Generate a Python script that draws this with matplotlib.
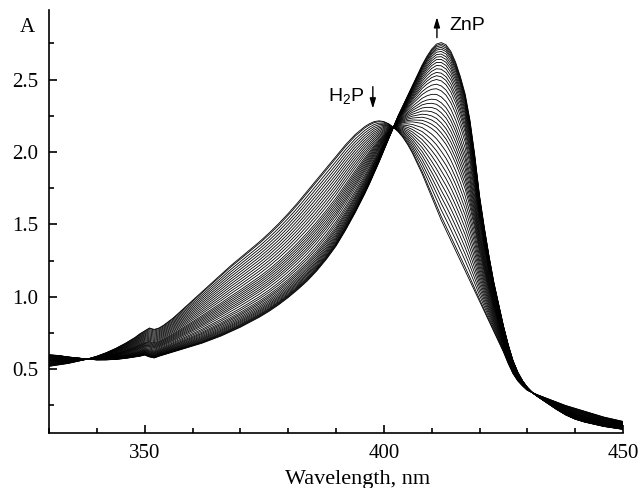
import numpy as np
import matplotlib
matplotlib.use('Agg')
import matplotlib.pyplot as plt
from matplotlib.ticker import MultipleLocator

# wavelength grid (nm)
wavelength = [330, 332, 334, 336, 338, 340, 342, 344, 346, 348, 349, 350, 351, 352, 353, 354,
              356, 358, 360, 362, 364, 366, 368, 370, 372, 374, 376, 378, 380, 382, 384, 386,
              388, 390, 392, 394, 396, 397, 398, 399, 400, 401, 402, 403, 404, 405, 406, 407,
              408, 409, 410, 411, 412, 413, 414, 415, 416, 417, 418, 419, 420, 421, 422, 423,
              424, 425, 426, 427, 428, 429, 430, 431, 432, 434, 436, 438, 440, 442, 444, 446,
              448, 450]

# free base porphyrin spectrum (start of titration)
abs_h2p = [0.52, 0.53, 0.54, 0.555, 0.57, 0.59, 0.615, 0.645, 0.68, 0.72, 0.745, 0.765, 0.785, 0.775, 0.785, 0.805,
           0.855, 0.915, 0.975, 1.035, 1.095, 1.155, 1.215, 1.27, 1.325, 1.38, 1.44, 1.505, 1.575, 1.65, 1.73, 1.81,
           1.89, 1.97, 2.05, 2.12, 2.175, 2.195, 2.21, 2.215, 2.21, 2.195, 2.17, 2.14, 2.10, 2.05, 1.99, 1.92,
           1.85, 1.77, 1.69, 1.61, 1.53, 1.46, 1.39, 1.32, 1.25, 1.18, 1.11, 1.04, 0.97, 0.90, 0.83, 0.76,
           0.69, 0.62, 0.54, 0.47, 0.42, 0.385, 0.355, 0.34, 0.325, 0.30, 0.275, 0.25, 0.23, 0.21, 0.19, 0.17,
           0.155, 0.14]

# zinc porphyrin spectrum (end of titration)
abs_znp = [0.60, 0.595, 0.585, 0.578, 0.57, 0.565, 0.565, 0.568, 0.575, 0.585, 0.59, 0.598, 0.585, 0.578, 0.59, 0.60,
           0.62, 0.64, 0.66, 0.68, 0.705, 0.73, 0.76, 0.79, 0.825, 0.86, 0.90, 0.945, 0.995, 1.05, 1.11, 1.18,
           1.26, 1.35, 1.46, 1.58, 1.71, 1.78, 1.855, 1.93, 2.01, 2.09, 2.17, 2.25, 2.32, 2.39, 2.46, 2.53,
           2.60, 2.66, 2.71, 2.745, 2.755, 2.74, 2.695, 2.62, 2.52, 2.40, 2.22, 1.98, 1.70, 1.48, 1.28, 1.10,
           0.95, 0.80, 0.67, 0.56, 0.48, 0.42, 0.375, 0.34, 0.315, 0.27, 0.225, 0.185, 0.155, 0.135, 0.12, 0.105,
           0.095, 0.085]

# absorbance at 412 nm of each recorded spectrum
levels_412 = [1.53, 1.555, 1.60, 1.645, 1.69, 1.735, 1.78, 1.825, 1.87, 1.915, 1.96, 2.005, 2.05,
              2.097, 2.132, 2.167, 2.201, 2.236, 2.271, 2.306, 2.34, 2.38, 2.422, 2.456, 2.491,
              2.519, 2.544, 2.571, 2.595, 2.618, 2.639, 2.658, 2.676, 2.694, 2.71, 2.722, 2.734,
              2.745, 2.755]

wl = np.array(wavelength)
h2p = np.array(abs_h2p)
znp = np.array(abs_znp)
i412 = wavelength.index(412)

fig = plt.figure(figsize=(6.41, 4.88), dpi=100)
ax = fig.add_axes([49 / 641, 1 - 433 / 488, (623 - 49) / 641, (433 - 10) / 488])

for lev in levels_412:
    f = (lev - h2p[i412]) / (znp[i412] - h2p[i412])
    ax.plot(wl, h2p + f * (znp - h2p), color='black', lw=0.6)

ax.set_xlim(330, 450)
ax.set_ylim(0.06, 2.98)
ax.spines['top'].set_visible(False)
ax.spines['right'].set_visible(False)
ax.spines['left'].set_linewidth(1.2)
ax.spines['bottom'].set_linewidth(1.2)

ax.xaxis.set_major_locator(MultipleLocator(50))
ax.xaxis.set_minor_locator(MultipleLocator(10))
ax.yaxis.set_major_locator(MultipleLocator(0.5))
ax.yaxis.set_minor_locator(MultipleLocator(0.25))
ax.yaxis.set_major_formatter(matplotlib.ticker.FormatStrFormatter('%.1f'))
ax.tick_params(which='both', direction='in', width=1.2)
ax.tick_params(which='major', length=6, pad=8)
ax.tick_params(which='minor', length=3.5)
for lab in ax.get_xticklabels() + ax.get_yticklabels():
    lab.set_fontfamily('Liberation Serif')
    lab.set_fontsize(15)

fig.text(27 / 641, 1 - 27 / 488, 'A', family='Liberation Serif', fontsize=15, ha='center', va='center')
fig.text(358 / 641, 1 - 484 / 488, 'Wavelength, nm', family='Liberation Serif', fontsize=16,
         ha='center', va='baseline')

# annotations
ax.text(388.3, 2.35, r'H$_\mathregular{2}$P', family='Liberation Sans', fontsize=14, ha='left', va='baseline')
ax.annotate('', xy=(397.7, 2.28), xytext=(397.7, 2.47),
            arrowprops=dict(arrowstyle='-|>,head_length=0.6,head_width=0.18', lw=1.0, color='black'))
ax.text(413.8, 2.84, 'ZnP', family='Liberation Sans', fontsize=14, ha='left', va='baseline')
ax.annotate('', xy=(411.1, 2.95), xytext=(411.1, 2.77),
            arrowprops=dict(arrowstyle='-|>,head_length=0.6,head_width=0.18', lw=1.0, color='black'))

fig.savefig('out.png', dpi=100)
